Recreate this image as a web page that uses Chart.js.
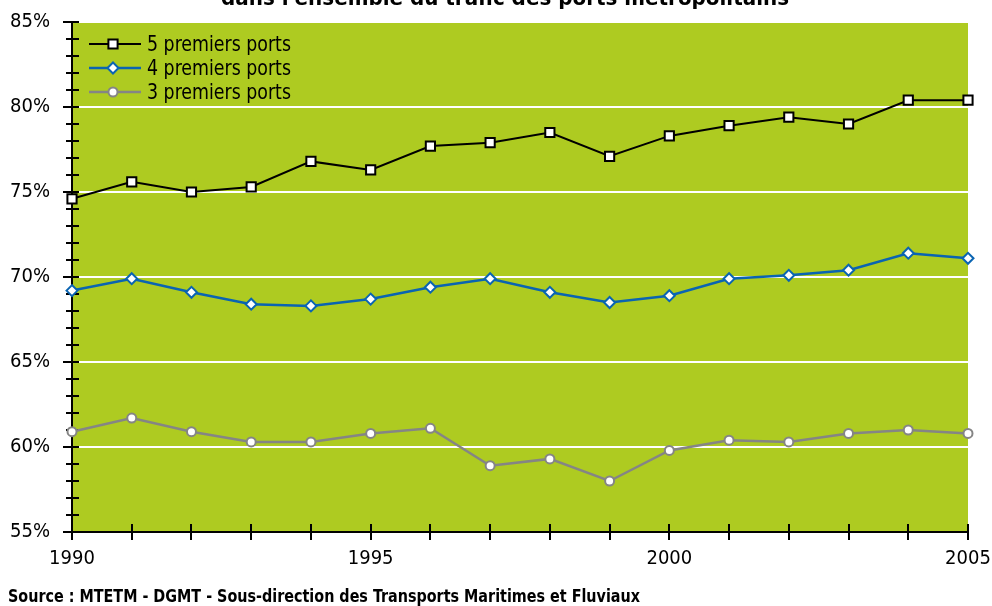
<!DOCTYPE html>
<html>
<head>
<meta charset="utf-8">
<script src="https://cdn.jsdelivr.net/npm/chart.js@4/dist/chart.umd.min.js"></script>
<style>
  html, body { margin: 0; padding: 0; background: #ffffff; }
  #wrap { width: 992px; height: 606px; }
</style>
</head>
<body>
<div id="wrap"><canvas id="c" width="992" height="606"></canvas></div>
<script>
// Share of the leading French ports in total metropolitan port traffic (%)
const years = [1990, 1991, 1992, 1993, 1994, 1995, 1996, 1997, 1998, 1999, 2000, 2001, 2002, 2003, 2004, 2005];
const top5Ports = [74.6, 75.6, 75.0, 75.3, 76.8, 76.3, 77.7, 77.9, 78.5, 77.1, 78.3, 78.9, 79.4, 79.0, 80.4, 80.4];
const top4Ports = [69.2, 69.9, 69.1, 68.4, 68.3, 68.7, 69.4, 69.9, 69.1, 68.5, 68.9, 69.9, 70.1, 70.4, 71.4, 71.1];
const top3Ports = [60.9, 61.7, 60.9, 60.3, 60.3, 60.8, 61.1, 58.9, 59.3, 58.0, 59.8, 60.4, 60.3, 60.8, 61.0, 60.8];
const seriesNames = ['5 premiers ports', '4 premiers ports', '3 premiers ports'];
const yMin = 55, yMax = 85, yMajorStep = 5, yMinorStep = 1;
const xLabelEvery = 5;
const titleText = "dans l'ensemble du trafic des ports métropolitains";
const sourceText = 'Source : MTETM - DGMT - Sous-direction des Transports Maritimes et Fluviaux';

const FONT = "'DejaVu Sans Condensed', 'Liberation Sans Narrow', Arial, sans-serif";
const PLOT_GREEN = '#AECB21';

// draw text squeezed horizontally to a given width (condensed look)
function fitText(ctx, text, x, y, width, align) {
  const w = ctx.measureText(text).width;
  const k = Math.min(1.15, width / w);
  ctx.save();
  ctx.translate(x, y);
  ctx.scale(k, 1);
  ctx.textAlign = align || 'left';
  ctx.fillText(text, 0, 0);
  ctx.restore();
}

const plotBackground = {
  id: 'plotBackground',
  beforeDraw(chart) {
    const { ctx, chartArea: a } = chart;
    ctx.save();
    ctx.fillStyle = PLOT_GREEN;
    ctx.fillRect(a.left, a.top, a.right - a.left, a.bottom - a.top);
    ctx.restore();
  }
};

// black axis lines with cross ticks (every 1 % and every year)
const crossAxes = {
  id: 'crossAxes',
  beforeDatasetsDraw(chart) {
    const { ctx, chartArea: a, scales } = chart;
    const xs = scales.x, ys = scales.y;
    ctx.save();
    ctx.strokeStyle = '#000';
    ctx.lineWidth = 2;
    ctx.beginPath();
    ctx.moveTo(a.left, a.top - 1);
    ctx.lineTo(a.left, a.bottom);
    ctx.moveTo(a.left, a.bottom);
    ctx.lineTo(a.right, a.bottom);
    for (let v = yMin; v <= yMax; v += yMinorStep) {
      const py = Math.round(ys.getPixelForValue(v));
      const major = v % yMajorStep === 0;
      ctx.moveTo(a.left - (major ? 9 : 6), py);
      ctx.lineTo(a.left + 7, py);
    }
    years.forEach((yr, i) => {
      const px = Math.round(xs.getPixelForValue(i));
      ctx.moveTo(px, a.bottom - 8);
      ctx.lineTo(px, a.bottom + 8);
    });
    ctx.stroke();
    ctx.restore();
  }
};

const legendInPlot = {
  id: 'legendInPlot',
  afterDraw(chart) {
    const { ctx } = chart;
    const rowY = [44, 68, 92];
    ctx.save();
    chart.data.datasets.forEach((ds, i) => {
      const y = rowY[i];
      ctx.strokeStyle = ds.borderColor;
      ctx.lineWidth = ds.borderWidth;
      ctx.beginPath();
      ctx.moveTo(89, y);
      ctx.lineTo(141, y);
      ctx.stroke();
      ctx.fillStyle = ds.pointBackgroundColor;
      ctx.strokeStyle = ds.pointBorderColor;
      ctx.lineWidth = ds.pointBorderWidth;
      Chart.helpers.drawPoint(ctx, {
        pointStyle: ds.pointStyle,
        radius: ds.pointRadius,
        borderWidth: ds.pointBorderWidth,
        rotation: 0
      }, 113, y);
      ctx.fillStyle = '#000';
      ctx.font = '22px ' + FONT;
      ctx.textBaseline = 'middle';
      fitText(ctx, ds.label, 147, y + 1, 144, 'left');
    });
    ctx.restore();
  }
};

const textBlocks = {
  id: 'textBlocks',
  afterDraw(chart) {
    const { ctx } = chart;
    ctx.save();
    ctx.fillStyle = '#000';
    ctx.textBaseline = 'alphabetic';
    ctx.font = 'bold 21px ' + FONT;
    fitText(ctx, titleText, 505, 5, 568, 'center');
    ctx.font = 'bold 17px ' + FONT;
    fitText(ctx, sourceText, 8, 602, 632, 'left');
    ctx.restore();
  }
};

// keep the plot area fixed: labels may overhang the outer padding
function noLabelPadding(s) {
  s.paddingTop = 0; s.paddingBottom = 0; s.paddingLeft = 0; s.paddingRight = 0;
}

new Chart(document.getElementById('c'), {
  type: 'line',
  data: {
    labels: years.map(String),
    datasets: [
      {
        label: seriesNames[0], data: top5Ports,
        borderColor: '#000000', borderWidth: 2,
        pointStyle: 'rect', pointRadius: 6.5, pointBorderWidth: 2,
        pointBackgroundColor: '#ffffff', pointBorderColor: '#000000'
      },
      {
        label: seriesNames[1], data: top4Ports,
        borderColor: '#0A64B2', borderWidth: 2.5,
        pointStyle: 'rectRot', pointRadius: 5.5, pointBorderWidth: 2,
        pointBackgroundColor: '#ffffff', pointBorderColor: '#0A64B2'
      },
      {
        label: seriesNames[2], data: top3Ports,
        borderColor: '#858585', borderWidth: 2.5,
        pointStyle: 'circle', pointRadius: 4.5, pointBorderWidth: 2,
        pointBackgroundColor: '#ffffff', pointBorderColor: '#858585'
      }
    ]
  },
  options: {
    responsive: false,
    animation: false,
    devicePixelRatio: 1,
    clip: false,
    layout: { padding: { top: 22, right: 24, left: 0, bottom: 0 } },
    plugins: { legend: { display: false }, tooltip: { enabled: false }, title: { display: false } },
    elements: { line: { tension: 0 } },
    scales: {
      x: {
        type: 'category',
        offset: false,
        grid: { display: false, drawTicks: false },
        border: { display: false },
        ticks: {
          autoSkip: false, maxRotation: 0, padding: 15,
          color: '#000', font: { family: FONT, size: 20 },
          callback: (v, i) => (years[i] % xLabelEvery === 0 ? String(years[i]) : '')
        },
        afterFit: (s) => { s.height = 74; noLabelPadding(s); }
      },
      y: {
        min: yMin, max: yMax,
        grid: {
          drawTicks: false, lineWidth: 2,
          color: (c) => (c.tick && c.tick.value === yMin ? 'rgba(0,0,0,0)' : '#ffffff')
        },
        border: { display: false },
        ticks: {
          stepSize: yMajorStep, padding: 22,
          color: '#000', font: { family: FONT, size: 20 },
          callback: (v) => v + '%'
        },
        afterFit: (s) => { s.width = 72; noLabelPadding(s); }
      }
    }
  },
  plugins: [plotBackground, crossAxes, legendInPlot, textBlocks]
});
</script>
</body>
</html>
